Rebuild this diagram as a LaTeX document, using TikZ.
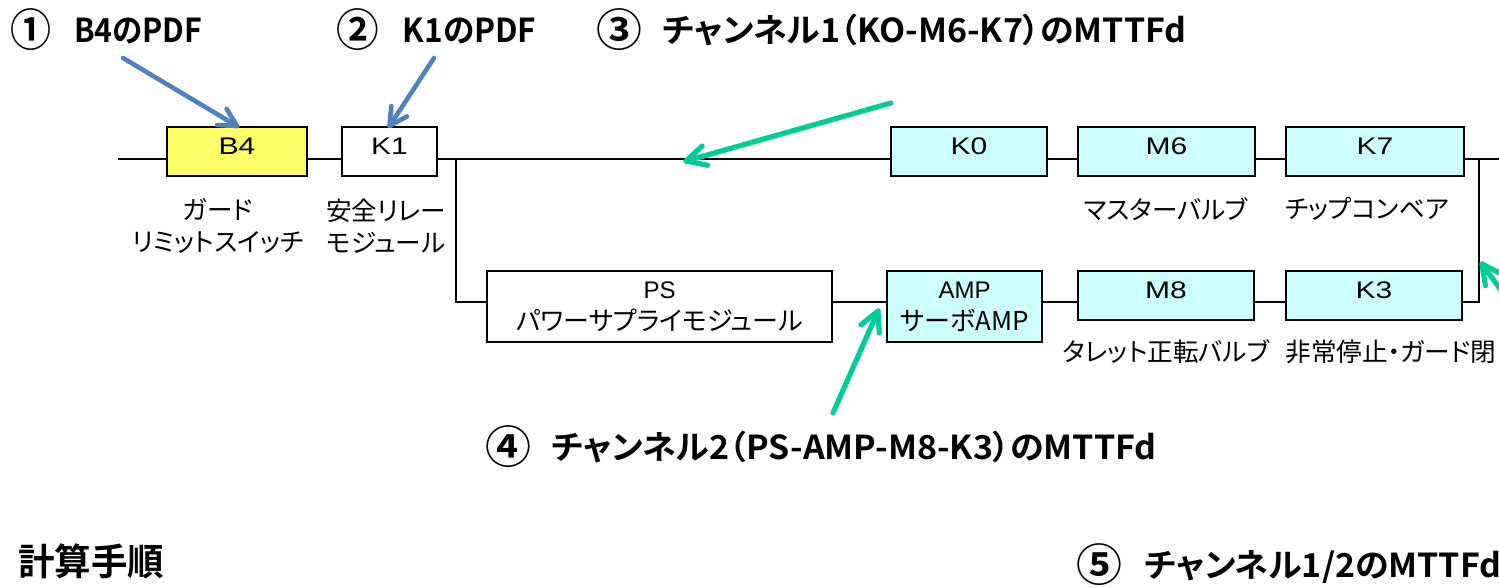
\documentclass[tikz,border=0pt]{standalone}
\usepackage{fontspec}
\usepackage{graphicx}
\setmainfont{Liberation Sans}
\newfontfamily\boxfont[FakeStretch=1.25]{Liberation Sans}
\newfontfamily\cjk[RawFeature=+palt]{Noto Sans CJK JP}
\newfontfamily\cjkb[RawFeature=+palt]{Noto Sans CJK JP Bold}
\usetikzlibrary{calc}
\definecolor{boxyellow}{RGB}{255,255,102}
\definecolor{boxcyan}{RGB}{204,255,255}
\definecolor{arrblue}{RGB}{79,129,189}
\definecolor{arrgreen}{RGB}{0,204,153}
\newsavebox\tbox
\newcommand\fitto[2]{\sbox\tbox{#2}\pgfmathsetmacro\fitsx{#1/\wd\tbox}\scalebox{\fitsx}[1]{\usebox\tbox}}
\newcommand\cnum[1]{\raisebox{-0.12em}{\scalebox{1.35}{#1}}}
\begin{document}%
\sbox\tbox{\cjkb\fontsize{16.5}{20}\selectfont \cnum{③}\hspace{0.6em}チャンネル1（KO-M6-K7）のMTTFd}%
\pgfmathsetmacro\tsx{295/\wd\tbox}%
\begin{tikzpicture}[x=0.5pt,y=-0.5pt,
 wire/.style={line width=1pt,black},
 part/.style={draw=black,line width=1pt,inner sep=0pt,font=\boxfont\fontsize{12}{14}\selectfont,text height=8.6pt,text depth=6pt,minimum height=24.5pt},
 part2/.style={draw=black,line width=1pt,inner sep=0pt,font=\fontsize{12}{16}\selectfont,align=center,minimum height=35.5pt},
 lbl/.style={font=\cjk\fontsize{12.8}{16}\selectfont,align=center,inner sep=0pt},
 ttl/.style={font=\cjkb\fontsize{16.5}{20}\selectfont,anchor=west,inner sep=0pt},
 bluearr/.style={arrblue,line width=2.3pt,line cap=round,line join=round},
 greenarr/.style={arrgreen,line width=2.6pt,line cap=round,line join=round}]
\useasboundingbox (0,0) rectangle (1499,588);
\fill[white] (0,0) rectangle (1499,588);
\clip (0,0) rectangle (1499,588);
% boxes
\node[part,fill=boxyellow,minimum width=70pt] (B4) at (237,151.5) {B4};
\node[part,fill=white,minimum width=47.5pt] (K1) at (389.5,151.5) {K1};
\node[part,fill=boxcyan,minimum width=78pt] (K0) at (969,151.5) {K0};
\node[part,fill=boxcyan,minimum width=88.5pt] (M6) at (1166.5,151.5) {M6};
\node[part,fill=boxcyan,minimum width=89pt] (K7) at (1375,151.5) {K7};
\node[part2,fill=white,minimum width=172.5pt] (PS) at (659.5,306.5) {PS\\{\cjk\fontsize{13}{16}\selectfont パワーサプライモジュール}};
\node[part2,fill=boxcyan,minimum width=77.5pt] (AMP) at (964.5,306.5) {AMP\\{\cjk\fontsize{13}{16}\selectfont サーボAMP}};
\node[part,fill=boxcyan,minimum width=88pt] (M8) at (1166,295.5) {M8};
\node[part,fill=boxcyan,minimum width=88pt] (K3) at (1374,295.5) {K3};
% wires
\coordinate (Lstart) at (118,159);
\coordinate (J1) at (456,159);
\coordinate (J1b) at (456,302);
\coordinate (J2) at (1479,159);
\coordinate (J2b) at (1479,302);
\coordinate (Lend) at (1499,159);
\draw[wire] (Lstart) -- (Lstart -| B4.west);
\draw[wire] (B4.east |- Lstart) -- (K1.west |- Lstart);
\draw[wire] (K1.east |- Lstart) -- (K0.west |- Lstart);
\draw[wire] (K0.east |- Lstart) -- (M6.west |- Lstart);
\draw[wire] (M6.east |- Lstart) -- (K7.west |- Lstart);
\draw[wire] (K7.east |- Lstart) -- (Lend);
\draw[wire] (J1) -- (J1b) -- (PS.west |- J1b);
\draw[wire] (PS.east |- J1b) -- (AMP.west |- J1b);
\draw[wire] (AMP.east |- J1b) -- (M8.west |- J1b);
\draw[wire] (M8.east |- J1b) -- (K3.west |- J1b);
\draw[wire] (K3.east |- J1b) -- (J2b) -- (J2);
% labels
\node[lbl] (lB4) at (218,226) {ガード\\リミットスイッチ};
\node[lbl] (lK1) at (386,226) {安全リレー\\モジュール};
\node[lbl] (lM6) at (1166,209) {マスターバルブ};
\node[lbl] (lK7) at (1367,209) {チップコンベア};
\node[lbl] (lM8) at (1166,352) {タレット正転バルブ};
\node[lbl,anchor=west] (lK3) at (1285,352) {非常停止・ガード閉};
% titles
\node[ttl] (t1) at (10,30) {\fitto{96}{\cnum{①}\hspace{0.75em}B4のPDF}};
\node[ttl] (t2) at (336,30) {\fitto{100}{\cnum{②}\hspace{0.75em}K1のPDF}};
\node[ttl] (t3) at (596,30) {\fitto{295}{\cnum{③}\hspace{0.6em}チャンネル1（KO-M6-K7）のMTTFd}};
\node[ttl] (t4) at (485,447) {\fitto{335.5}{\cnum{④}\hspace{0.6em}チャンネル2（PS-AMP-M8-K3）のMTTFd}};
\node[ttl,font=\cjkb\fontsize{18.5}{22}\selectfont] (t6) at (18,561) {\fitto{73}{計算手順}};
\node[ttl] (t5) at (1076,565) {\scalebox{\tsx}[1]{\cnum{⑤}\hspace{0.65em}チャンネル1/2のMTTFd}};
% arrows
\coordinate (a1) at (123,58);
\coordinate (a2) at (434,58);
\coordinate (b1) at (B4.north);
\coordinate (b2) at (K1.north);
\draw[bluearr] (a1) -- (b1);
\draw[bluearr] ($(b1)!10pt!-28:(a1)$) -- (b1) -- ($(b1)!10pt!28:(a1)$);
\draw[bluearr] (a2) -- (b2);
\draw[bluearr] ($(b2)!10pt!-28:(a2)$) -- (b2) -- ($(b2)!10pt!28:(a2)$);
\coordinate (g3s) at (891,103);
\coordinate (g3e) at (686,161);
\coordinate (g4s) at (833,413);
\coordinate (g4e) at (878,311);
\coordinate (g5s) at (1530,330);
\coordinate (g5e) at (1482,264);
\draw[greenarr] (g3s) -- (g3e);
\draw[greenarr] ($(g3e)!11pt!-27:(g3s)$) -- (g3e) -- ($(g3e)!11pt!27:(g3s)$);
\draw[greenarr] (g4s) -- (g4e);
\draw[greenarr] ($(g4e)!11pt!-27:(g4s)$) -- (g4e) -- ($(g4e)!11pt!27:(g4s)$);
\draw[greenarr] (g5s) -- (g5e);
\draw[greenarr] ($(g5e)!11pt!-27:(g5s)$) -- (g5e) -- ($(g5e)!11pt!27:(g5s)$);
\end{tikzpicture}%
\end{document}
